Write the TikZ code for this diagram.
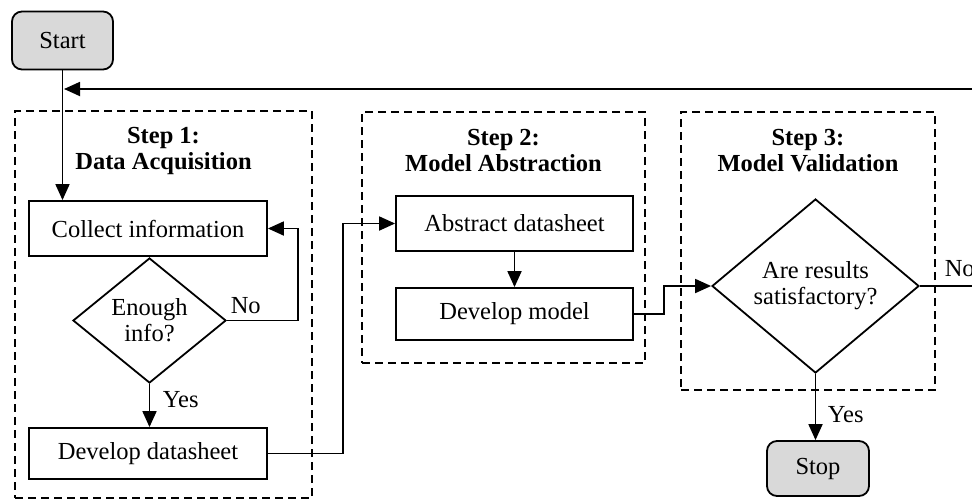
\documentclass[tikz,border=0pt]{standalone}
\usepackage{fontspec}
\setmainfont{Liberation Serif}
\usetikzlibrary{shapes.geometric, arrows.meta, positioning}

\begin{document}
\begin{tikzpicture}[x=1pt, y=-1pt, line width=1.8pt,
    font=\fontsize{24.5}{26}\selectfont,
    proc/.style={draw, minimum width=238pt, minimum height=55pt, inner sep=0pt},
    terminal/.style={draw, rounded corners=10pt, fill=gray!30, minimum width=101pt, minimum height=58pt},
    decide/.style={draw, diamond, inner sep=0pt, align=center},
    stepframe/.style={draw, dash pattern=on 8pt off 5pt, line width=1.5pt},
    steptitle/.style={font=\fontsize{24.5}{26}\selectfont\bfseries, align=center},
    lab/.style={anchor=south west, inner sep=0pt},
    flow/.style={-{Triangle[length=16pt, width=14pt]}},
]
\clip (0,0) rectangle (972,499);

% the three steps
\node[stepframe, minimum width=297pt, minimum height=387pt] (s1) at (163.5,304.5) {};
\node[stepframe, minimum width=283pt, minimum height=251pt] (s2) at (503.5,237.5) {};
\node[stepframe, minimum width=254pt, minimum height=278pt] (s3) at (808,251) {};
\node[steptitle] (t1) at (163.5,151) {Step 1:\\Data Acquisition};
\node[steptitle] (t2) at (503.5,151) {Step 2:\\Model Abstraction};
\node[steptitle] (t3) at (808,151) {Step 3:\\Model Validation};

\node[terminal] (start) at (62.5,40.5) {Start};
\node[proc] (collect) at (148,228.5) {Collect information};
\node[decide, minimum width=153pt, minimum height=125pt] (enough) at (149.5,320.5) {Enough\\info?};
\node[proc, minimum height=51pt] (sheet) at (148,453.5) {Develop datasheet};
\node[proc, minimum width=237pt] (abstract) at (514.5,223.5) {Abstract datasheet};
\node[proc, minimum width=237pt, minimum height=52pt] (model) at (514.5,314) {Develop model};
\node[decide, minimum width=207pt, minimum height=174pt] (valid) at (815.5,286) {Are results\\satisfactory?};
\node[terminal, minimum width=102pt, minimum height=55pt] (stop) at (818,468.5) {Stop};
\coordinate (back) at (64,89);

\draw[flow] (start.south) -- (start.south |- collect.north);
\draw[flow] (enough.east) -- node[lab, pos=0, xshift=3pt, yshift=5.5pt] (no1) {No} ++(71,0) |- (collect.east);
\draw[flow] (enough.south) -- node[lab, pos=0, xshift=12.5pt, yshift=-25pt] (yes1) {Yes} (enough.south |- sheet.north);
\draw[flow] (sheet.east) -- ++(75,0) |- (abstract.west);
\draw[flow] (abstract) -- (model);
\draw[flow] (model.east) -- ++(30,0) |- (valid.west);
\draw[flow] (valid.south) -- node[lab, pos=0, xshift=11.5pt, yshift=-50pt] (yes2) {Yes} (valid.south |- stop.north);
\draw[flow] (valid.east) -- node[lab, pos=0, xshift=24pt, yshift=8pt] (no2) {No} ++(80,0) |- (back);
\end{tikzpicture}
\end{document}
